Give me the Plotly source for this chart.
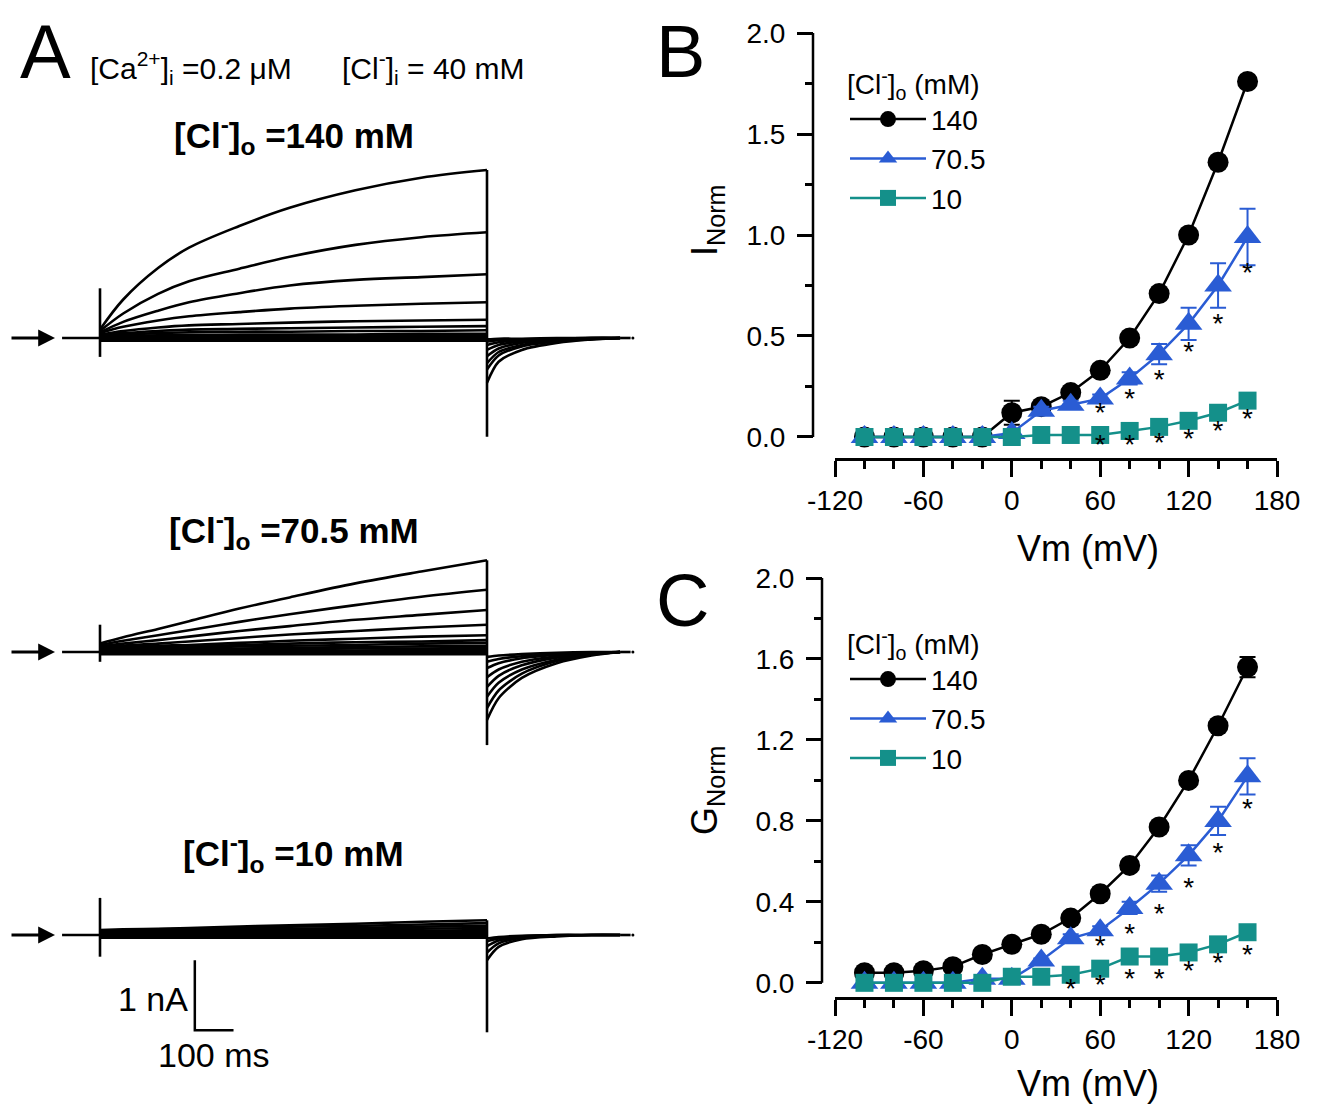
import plotly.graph_objects as go

W, H = 1319, 1107
FONT = "Liberation Sans, Arial, Helvetica, sans-serif"


def px_x(p):
    return p / W


def px_y(p):
    return 1 - p / H


# ---------------- Panel A : current traces (nA vs ms) ----------------
T_PRE = [-98, 0]
T_PULSE = [0, 60, 150, 230, 360, 490, 660, 830, 1000]
T_TAIL = [1000, 1030, 1090, 1180, 1270, 1344]
T_DOT = 1377

I_140 = [
    [0.12, 0.55, 1.00, 1.29, 1.60, 1.86, 2.11, 2.29, 2.40],
    [0.10, 0.35, 0.63, 0.81, 0.99, 1.16, 1.33, 1.44, 1.51],
    [0.08, 0.23, 0.39, 0.51, 0.64, 0.75, 0.83, 0.87, 0.91],
    [0.07, 0.16, 0.25, 0.31, 0.37, 0.42, 0.46, 0.49, 0.51],
    [0.05, 0.10, 0.15, 0.18, 0.20, 0.22, 0.24, 0.25, 0.26],
    [0.04, 0.07, 0.10, 0.12, 0.13, 0.14, 0.15, 0.16, 0.17],
    [0.03, 0.05, 0.07, 0.08, 0.09, 0.09, 0.10, 0.10, 0.11],
    [0.02, 0.03, 0.04, 0.04, 0.05, 0.05, 0.05, 0.06, 0.06],
    [0.01, 0.02, 0.02, 0.02, 0.03, 0.03, 0.03, 0.03, 0.03],
    [0.00, 0.00, 0.00, 0.00, 0.00, 0.00, 0.00, 0.00, 0.00],
    [-0.01, -0.01, -0.01, -0.01, -0.01, -0.01, -0.01, -0.01, -0.01],
    [-0.02, -0.02, -0.02, -0.02, -0.02, -0.02, -0.02, -0.02, -0.02],
    [-0.03, -0.03, -0.03, -0.03, -0.03, -0.03, -0.03, -0.03, -0.03],
    [-0.04, -0.04, -0.04, -0.04, -0.04, -0.04, -0.04, -0.04, -0.04],
]
TAIL_140 = [
    [-0.64, -0.34, -0.17, -0.07, -0.02, 0.0],
    [-0.45, -0.25, -0.12, -0.05, -0.02, 0.0],
    [-0.36, -0.20, -0.10, -0.04, -0.01, 0.0],
    [-0.26, -0.15, -0.07, -0.03, -0.01, 0.0],
    [-0.17, -0.10, -0.05, -0.02, 0.00, 0.0],
    [-0.10, -0.06, -0.03, -0.01, 0.00, 0.0],
    [-0.05, -0.03, -0.02, -0.01, 0.00, 0.0],
    [-0.02, -0.01, -0.01, 0.00, 0.00, 0.0],
]

I_70 = [
    [0.12, 0.21, 0.33, 0.44, 0.62, 0.78, 0.98, 1.15, 1.31],
    [0.10, 0.16, 0.24, 0.31, 0.43, 0.54, 0.67, 0.79, 0.89],
    [0.08, 0.12, 0.17, 0.22, 0.30, 0.37, 0.46, 0.53, 0.60],
    [0.06, 0.09, 0.12, 0.15, 0.20, 0.25, 0.30, 0.35, 0.39],
    [0.05, 0.07, 0.09, 0.10, 0.13, 0.16, 0.19, 0.22, 0.24],
    [0.04, 0.05, 0.07, 0.08, 0.10, 0.12, 0.14, 0.15, 0.17],
    [0.03, 0.04, 0.05, 0.06, 0.08, 0.09, 0.10, 0.12, 0.13],
    [0.02, 0.03, 0.04, 0.04, 0.05, 0.06, 0.07, 0.08, 0.09],
    [0.02, 0.02, 0.03, 0.03, 0.04, 0.04, 0.05, 0.05, 0.06],
    [0.01, 0.01, 0.01, 0.02, 0.02, 0.02, 0.02, 0.03, 0.03],
    [0.00, 0.00, 0.00, 0.00, 0.00, 0.00, 0.00, 0.00, 0.00],
    [-0.01, -0.01, -0.01, -0.01, -0.01, -0.01, -0.01, -0.01, -0.01],
    [-0.02, -0.02, -0.02, -0.02, -0.02, -0.02, -0.02, -0.02, -0.02],
    [-0.03, -0.03, -0.03, -0.03, -0.03, -0.03, -0.03, -0.03, -0.03],
]
TAIL_70 = [
    [-0.97, -0.66, -0.37, -0.16, -0.05, 0.0],
    [-0.80, -0.55, -0.31, -0.13, -0.04, 0.0],
    [-0.64, -0.44, -0.25, -0.11, -0.03, 0.0],
    [-0.50, -0.34, -0.19, -0.08, -0.03, 0.0],
    [-0.36, -0.25, -0.14, -0.06, -0.02, 0.0],
    [-0.23, -0.16, -0.09, -0.04, -0.01, 0.0],
    [-0.14, -0.10, -0.06, -0.03, -0.01, 0.0],
    [-0.07, -0.05, -0.03, -0.01, 0.00, 0.0],
]

I_10 = [
    [0.07, 0.08, 0.09, 0.10, 0.12, 0.14, 0.16, 0.19, 0.21],
    [0.06, 0.07, 0.08, 0.09, 0.10, 0.12, 0.13, 0.15, 0.17],
    [0.05, 0.06, 0.07, 0.07, 0.08, 0.09, 0.10, 0.12, 0.13],
    [0.04, 0.05, 0.05, 0.06, 0.06, 0.07, 0.08, 0.09, 0.10],
    [0.03, 0.04, 0.04, 0.04, 0.05, 0.05, 0.06, 0.06, 0.07],
    [0.02, 0.02, 0.03, 0.03, 0.03, 0.03, 0.04, 0.04, 0.04],
    [0.01, 0.01, 0.01, 0.01, 0.02, 0.02, 0.02, 0.02, 0.02],
    [0.00, 0.00, 0.00, 0.00, 0.00, 0.00, 0.00, 0.00, 0.00],
    [-0.01, -0.01, -0.01, -0.01, -0.01, -0.01, -0.01, -0.01, -0.01],
    [-0.02, -0.02, -0.02, -0.02, -0.02, -0.02, -0.02, -0.02, -0.02],
    [-0.03, -0.03, -0.03, -0.03, -0.03, -0.03, -0.03, -0.03, -0.03],
    [-0.04, -0.04, -0.04, -0.04, -0.04, -0.04, -0.04, -0.04, -0.04],
]
TAIL_10 = [
    [-0.36, -0.17, -0.06, -0.02, 0.00, 0.0],
    [-0.25, -0.12, -0.04, -0.01, 0.00, 0.0],
    [-0.16, -0.08, -0.03, -0.01, 0.00, 0.0],
    [-0.09, -0.05, -0.02, 0.00, 0.00, 0.0],
    [-0.05, -0.03, -0.01, 0.00, 0.00, 0.0],
]

ON_SPIKE = {"140": [0.71, -0.27], "70.5": [0.39, -0.14], "10": [0.53, -0.31]}
OFF_SPIKE_MIN = {"140": -1.41, "70.5": -1.33, "10": -1.39}

SCALE_NA = 1
SCALE_MS = 100

# ---------------- Panels B and C ----------------
VM = [-100, -80, -60, -40, -20, 0, 20, 40, 60, 80, 100, 120, 140, 160]
X_TICKS = [-120, -60, 0, 60, 120, 180]

I_140_N = [0.0, 0.0, 0.0, 0.0, 0.0, 0.12, 0.15, 0.22, 0.33, 0.49, 0.71, 1.00, 1.36, 1.76]
I_140_E = [0.0, 0.0, 0.0, 0.0, 0.0, 0.06, 0.02, 0.02, 0.02, 0.02, 0.02, 0.02, 0.02, 0.02]
I_70_N = [0.0, 0.0, 0.0, 0.0, 0.0, 0.02, 0.13, 0.16, 0.19, 0.29, 0.41, 0.56, 0.75, 0.99]
I_70_E = [0.0, 0.0, 0.0, 0.0, 0.0, 0.01, 0.02, 0.02, 0.02, 0.03, 0.05, 0.08, 0.11, 0.14]
I_10_N = [0.0, 0.0, 0.0, 0.0, 0.0, 0.0, 0.01, 0.01, 0.01, 0.03, 0.05, 0.08, 0.12, 0.18]
I_10_E = [0.0, 0.0, 0.0, 0.0, 0.0, 0.0, 0.0, 0.0, 0.01, 0.01, 0.01, 0.02, 0.02, 0.02]

G_140_N = [0.05, 0.05, 0.06, 0.08, 0.14, 0.19, 0.24, 0.32, 0.44, 0.58, 0.77, 1.00, 1.27, 1.56]
G_140_E = [0.01, 0.01, 0.01, 0.01, 0.01, 0.01, 0.01, 0.01, 0.01, 0.01, 0.01, 0.02, 0.02, 0.05]
G_70_N = [0.0, 0.0, 0.0, 0.0, 0.02, 0.02, 0.11, 0.22, 0.26, 0.37, 0.49, 0.63, 0.80, 1.02]
G_70_E = [0.0, 0.0, 0.0, 0.0, 0.0, 0.0, 0.01, 0.02, 0.02, 0.03, 0.04, 0.05, 0.07, 0.09]
G_10_N = [0.0, 0.0, 0.0, 0.0, 0.0, 0.03, 0.03, 0.04, 0.07, 0.13, 0.13, 0.15, 0.19, 0.25]
G_10_E = [0.0, 0.0, 0.0, 0.0, 0.0, 0.0, 0.0, 0.01, 0.01, 0.01, 0.02, 0.02, 0.02, 0.02]

# significance asterisks (position of the star)
AST_B_70_X = [60, 80, 100, 120, 140, 160]
AST_B_70_Y = [0.11, 0.18, 0.27, 0.41, 0.55, 0.80]
AST_B_10_X = [60, 80, 100, 120, 140, 160]
AST_B_10_Y = [-0.05, -0.05, -0.04, -0.02, 0.02, 0.08]
AST_C_70_X = [60, 80, 100, 120, 140, 160]
AST_C_70_Y = [0.17, 0.23, 0.33, 0.46, 0.63, 0.85]
AST_C_10_X = [40, 60, 80, 100, 120, 140, 160]
AST_C_10_Y = [-0.04, -0.02, 0.01, 0.01, 0.05, 0.09, 0.13]

SERIES_NAMES = ["140", "70.5", "10"]
COLORS = ["#000000", "#2a5cd4", "#14908a"]
SYMBOLS = ["circle", "triangle-up", "square"]
SIZES = [21, 24, 18]

fig = go.Figure()

# ---------- Panel A geometry ----------
A_T0_PX = 100
A_PX_PER_MS = 0.387
A_PX_PER_NA = 70
A_X_DOMAIN_PX = [0, 660]
A_PANELS = [
    ("140", I_140, TAIL_140, 155, 450, 338),
    ("70.5", I_70, TAIL_70, 545, 760, 652),
    ("10", I_10, TAIL_10, 870, 1075, 935),
]

layout_axes = {}
LW = 2.6
for k, (key, pulses, tails, top, bot, base) in enumerate(A_PANELS, start=1):
    xa, ya = f"x{k}", f"y{k}"
    layout_axes[f"xaxis{k}"] = dict(
        domain=[px_x(A_X_DOMAIN_PX[0]), px_x(A_X_DOMAIN_PX[1])],
        range=[(A_X_DOMAIN_PX[0] - A_T0_PX) / A_PX_PER_MS, (A_X_DOMAIN_PX[1] - A_T0_PX) / A_PX_PER_MS],
        visible=False, anchor=ya)
    layout_axes[f"yaxis{k}"] = dict(
        domain=[px_y(bot), px_y(top)],
        range=[-(bot - base) / A_PX_PER_NA, (base - top) / A_PX_PER_NA],
        visible=False, anchor=xa)
    # pulse currents
    xs, ys = [], []
    for tr in pulses:
        xs += T_PULSE + [None]
        ys += tr + [None]
    fig.add_trace(go.Scatter(x=xs, y=ys, mode="lines", xaxis=xa, yaxis=ya,
                             line=dict(color="black", width=LW, shape="spline", smoothing=1.0),
                             showlegend=False, hoverinfo="skip"))
    # tail currents
    xs, ys = [], []
    for tr in tails:
        xs += T_TAIL + [None]
        ys += tr + [None]
    fig.add_trace(go.Scatter(x=xs, y=ys, mode="lines", xaxis=xa, yaxis=ya,
                             line=dict(color="black", width=LW, shape="spline", smoothing=0.8),
                             showlegend=False, hoverinfo="skip"))
    # holding baseline and capacitive transients
    fig.add_trace(go.Scatter(
        x=T_PRE + [None, 0, 0, None, T_PULSE[-1], T_PULSE[-1], None, T_TAIL[-1], T_DOT - 6],
        y=[0, 0, None, ON_SPIKE[key][0], ON_SPIKE[key][1], None, pulses[0][-1], OFF_SPIKE_MIN[key], None, 0, 0],
        mode="lines", xaxis=xa, yaxis=ya, line=dict(color="black", width=LW),
        showlegend=False, hoverinfo="skip"))
    fig.add_trace(go.Scatter(x=[T_DOT], y=[0], mode="markers", xaxis=xa, yaxis=ya,
                             marker=dict(color="black", size=3), showlegend=False, hoverinfo="skip"))

# scale bar in lowest trace panel
SB_T0 = 245
SB_I0 = -1.36
fig.add_trace(go.Scatter(x=[SB_T0, SB_T0, SB_T0 + SCALE_MS], y=[SB_I0 + SCALE_NA, SB_I0, SB_I0],
                         mode="lines", xaxis="x3", yaxis="y3", line=dict(color="black", width=2.5),
                         showlegend=False, hoverinfo="skip"))

# ---------- Panels B and C ----------
B_X_DOM = [835, 1277]
PANELS_BC = [
    dict(k=4, ydom=(458, 33), yrange=[-0.104, 2.0], dtick=0.5, minor=0.25, yaxis_px=813,
         data=[(I_140_N, I_140_E), (I_70_N, I_70_E), (I_10_N, I_10_E)], legend="legend",
         ast=[(AST_B_70_X, AST_B_70_Y), (AST_B_10_X, AST_B_10_Y)]),
    dict(k=5, ydom=(997, 578), yrange=[-0.07, 2.0], dtick=0.4, minor=0.2, yaxis_px=822,
         data=[(G_140_N, G_140_E), (G_70_N, G_70_E), (G_10_N, G_10_E)], legend="legend2",
         ast=[(AST_C_70_X, AST_C_70_Y), (AST_C_10_X, AST_C_10_Y)]),
]

tickfont = dict(family=FONT, size=28, color="black")
shapes = []
for P in PANELS_BC:
    k = P["k"]
    xa, ya = f"x{k}", f"y{k}"
    layout_axes[f"xaxis{k}"] = dict(
        domain=[px_x(B_X_DOM[0]), px_x(B_X_DOM[1])], range=[-120, 180],
        tickmode="array", tickvals=X_TICKS, ticktext=[str(v) for v in X_TICKS],
        anchor=ya, showline=True, linecolor="black", linewidth=2.5,
        ticks="outside", ticklen=16, tickwidth=2.5, tickcolor="black",
        minor=dict(dtick=20, tick0=0, ticks="outside", ticklen=8, tickwidth=2.5, tickcolor="black"),
        showgrid=False, zeroline=False, tickfont=tickfont)
    layout_axes[f"yaxis{k}"] = dict(
        domain=[px_y(P["ydom"][0]), px_y(P["ydom"][1])], range=P["yrange"],
        tick0=0, dtick=P["dtick"], tickformat=".1f",
        anchor="free", position=px_x(P["yaxis_px"]), showline=False,
        ticks="outside", ticklen=16, tickwidth=2.5, tickcolor="black", ticklabelstandoff=6,
        minor=dict(dtick=P["minor"], tick0=0, ticks="outside", ticklen=8, tickwidth=2.5, tickcolor="black"),
        showgrid=False, zeroline=False, tickfont=tickfont)
    shapes.append(dict(type="line", xref="paper", yref=ya, x0=px_x(P["yaxis_px"]), x1=px_x(P["yaxis_px"]),
                       y0=0, y1=2.0, line=dict(color="black", width=2.5)))
    for (vals, errs), name, col, sym, sz in zip(P["data"], SERIES_NAMES, COLORS, SYMBOLS, SIZES):
        fig.add_trace(go.Scatter(
            x=VM, y=vals, name=name, mode="lines+markers", xaxis=xa, yaxis=ya,
            line=dict(color=col, width=2.5),
            marker=dict(symbol=sym, size=sz, color=col, line=dict(width=0)),
            error_y=dict(type="data", array=errs, color=col, thickness=2, width=8),
            legend=P["legend"], cliponaxis=False, hoverinfo="skip"))
    for ax_, ay_ in P["ast"]:
        fig.add_trace(go.Scatter(
            x=ax_, y=ay_, mode="text", text=["*"] * len(ax_), xaxis=xa, yaxis=ya,
            textfont=dict(family=FONT, size=28, color="black"), textposition="middle center",
            showlegend=False, cliponaxis=False, hoverinfo="skip"))

legend_common = dict(
    xanchor="left", yanchor="top", bgcolor="rgba(0,0,0,0)",
    font=dict(family=FONT, size=28, color="black"),
    title=dict(text="[Cl<sup>-</sup>]<sub>o</sub> (mM)", font=dict(family=FONT, size=28, color="black")),
    tracegroupgap=0, itemwidth=76)

annotations = []


def ann(text, xp, yp, size, **kw):
    d = dict(text=text, x=px_x(xp), y=px_y(yp), xref="paper", yref="paper", showarrow=False,
             font=dict(family=FONT, size=size, color="black"), xanchor="center", yanchor="middle")
    d.update(kw)
    annotations.append(d)


ann("A", 45, 52, 76)
ann("B", 680, 52, 74)
ann("C", 683, 600, 74)
ann("[Ca<sup>2+</sup>]<sub>i</sub> =0.2 μM", 88, 68, 30, xanchor="left")
ann("[Cl<sup>-</sup>]<sub>i</sub> = 40 mM", 340, 68, 30, xanchor="left")
ann("<b>[Cl<sup>-</sup>]<sub>o</sub> =140 mM</b>", 294, 135, 35)
ann("<b>[Cl<sup>-</sup>]<sub>o</sub> =70.5 mM</b>", 294, 530, 35)
ann("<b>[Cl<sup>-</sup>]<sub>o</sub> =10 mM</b>", 293, 853, 35)
ann("1 nA", 190, 999, 34, xanchor="right")
ann("100 ms", 214, 1055, 34)
ann("I<sub>Norm</sub>", 707, 220, 36, textangle=-90)
ann("G<sub>Norm</sub>", 707, 790, 36, textangle=-90)
ann("Vm (mV)", 1088, 548, 36)
ann("Vm (mV)", 1088, 1083, 36)

# holding-potential arrows
for k, (key, pulses, tails, top, bot, base) in enumerate(A_PANELS, start=1):
    annotations.append(dict(
        x=(55 - A_T0_PX) / A_PX_PER_MS, y=0, xref=f"x{k}", yref=f"y{k}",
        ax=-45, ay=0, axref="pixel", ayref="pixel", showarrow=True, text="",
        arrowhead=2, arrowsize=1.2, arrowwidth=2.8, arrowcolor="black"))

fig.update_layout(
    width=W, height=H, margin=dict(l=0, r=0, t=0, b=0, pad=0, autoexpand=False),
    paper_bgcolor="white", plot_bgcolor="white",
    showlegend=True,
    legend=dict(x=px_x(845), y=px_y(58), **legend_common),
    legend2=dict(x=px_x(845), y=px_y(618), **legend_common),
    annotations=annotations, shapes=shapes,
    **layout_axes)

fig.write_html("out.html", config={"displayModeBar": False},
               post_script="document.body.style.margin='0';")
